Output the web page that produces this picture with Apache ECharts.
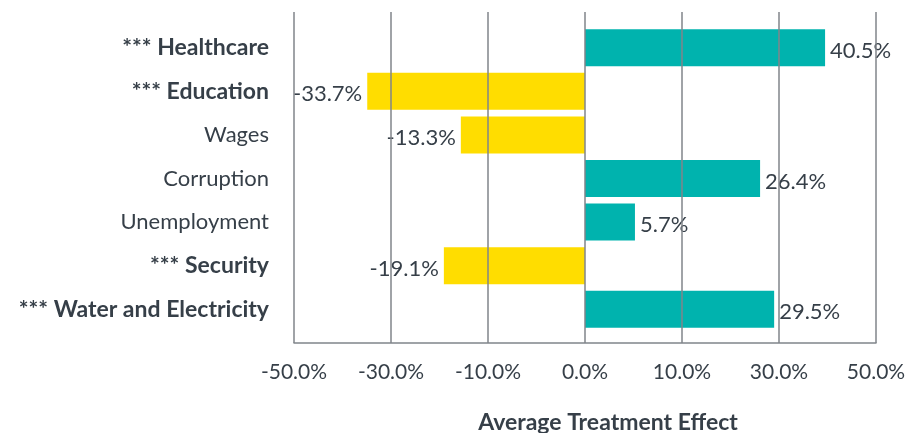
<!DOCTYPE html>
<html lang="en">
<head>
    <meta charset="UTF-8">
    <title>Average Treatment Effect</title>
    <script type="text/javascript" src="https://cdn.jsdelivr.net/npm/echarts@6/dist/echarts.min.js"></script>
    <style>
        html, body { margin: 0; padding: 0; background: #fff; }
    </style>
</head>
<body>
<div id="main" style="width: 910px;height:433px;"></div>
<script>
    // categories, top to bottom
    var categories = ['*** Healthcare', '*** Education', 'Wages', 'Corruption',
        'Unemployment', '*** Security', '*** Water and Electricity'];
    // bar lengths as drawn, in axis units (the printed axis is not linear)
    var barLength = [49.5, -44.9, -25.6, 36.1, 10.3, -29.1, 39.0];
    // value labels printed next to the bars
    var valueLabels = ['40.5%', '-33.7%', '-13.3%', '26.4%', '5.7%', '-19.1%', '29.5%'];
    // tick labels, from -60 to 60 step 20 in axis units
    var tickLabels = ['-50.0%', '-30.0%', '-10.0%', '0.0%', '10.0%', '30.0%', '50.0%'];

    var teal = '#00b3ae';
    var yellow = '#ffdd00';
    var ink = '#363f48';
    var lineGray = '#80858a';
    var font = 'Lato';

    var myChart = echarts.init(document.getElementById('main'));

    var barData = barLength.map(function (v, i) {
        return {
            value: v,
            itemStyle: {color: v >= 0 ? teal : yellow},
            label: {
                position: v >= 0 ? 'right' : 'left',
                formatter: valueLabels[i]
            }
        };
    });

    var option = {
        animation: false,
        title: {
            text: 'Average Treatment Effect',
            left: 603,
            top: 406,
            textAlign: 'center',
            textStyle: {fontFamily: font, fontWeight: 'bold', fontSize: 23, color: ink}
        },
        grid: [
            {left: 294, right: 34, top: 12, bottom: 90},
            {left: 294, right: 34, top: 26, bottom: 102}
        ],
        xAxis: [{
            gridIndex: 0,
            type: 'value',
            min: -60,
            max: 60,
            interval: 20,
            z: 5,
            axisLine: {show: true, lineStyle: {color: lineGray, width: 1.5}},
            axisTick: {show: false},
            splitLine: {show: true, lineStyle: {color: lineGray, width: 1.5}},
            axisLabel: {
                margin: 19,
                fontFamily: font,
                fontSize: 21,
                color: ink,
                formatter: function (v) {
                    return tickLabels[Math.round((v + 60) / 20)];
                }
            }
        }, {
            gridIndex: 1,
            type: 'value',
            min: -60,
            max: 60,
            interval: 20,
            show: false
        }],
        yAxis: [{
            gridIndex: 0,
            type: 'value',
            show: false
        }, {
            gridIndex: 1,
            type: 'category',
            inverse: true,
            data: categories,
            axisLine: {show: false},
            axisTick: {show: false},
            axisLabel: {
                margin: 25,
                formatter: function (v) {
                    return v.indexOf('***') === 0 ? '{b|' + v + '}' : '{r|' + v + '}';
                },
                rich: {
                    b: {fontFamily: font, fontWeight: 'bold', fontSize: 23, color: ink},
                    r: {fontFamily: font, fontSize: 22, color: ink}
                }
            }
        }],
        series: [{
            type: 'bar',
            xAxisIndex: 1,
            yAxisIndex: 1,
            barWidth: 37,
            z: 2,
            data: barData,
            label: {
                show: true,
                distance: 5,
                offset: [0, 3],
                fontFamily: font,
                fontSize: 22,
                color: ink
            }
        }]
    };

    myChart.setOption(option);
</script>
</body>
</html>
